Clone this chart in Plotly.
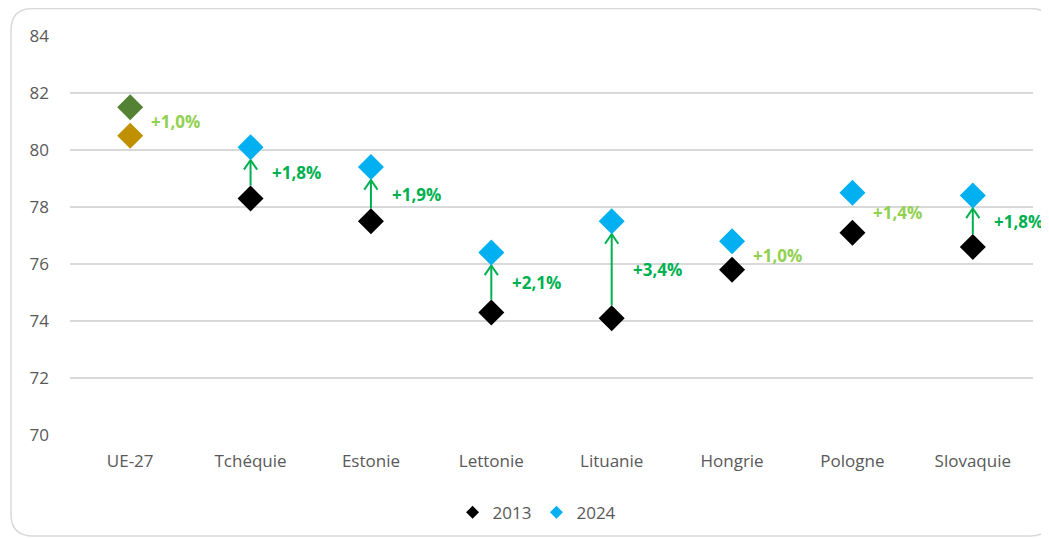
import plotly.graph_objects as go

categories = ["UE-27", "Tchéquie", "Estonie", "Lettonie", "Lituanie", "Hongrie", "Pologne", "Slovaquie"]
values_2013 = [80.5, 78.3, 77.5, 74.3, 74.1, 75.8, 77.1, 76.6]
values_2024 = [81.5, 80.1, 79.4, 76.4, 77.5, 76.8, 78.5, 78.4]
growth_labels = ["+1,0%", "+1,8%", "+1,9%", "+2,1%", "+3,4%", "+1,0%", "+1,4%", "+1,8%"]
significant = [False, True, True, True, True, False, False, True]
y_ticks = [70, 72, 74, 76, 78, 80, 82, 84]

BLACK = "#000000"
BLUE = "#00B0F0"
EU_2013 = "#BF9000"
EU_2024 = "#548235"
DARK_GREEN = "#00B050"
LIGHT_GREEN = "#92D050"
FONT = "Open Sans"

# page has an 8px body margin: figure size/margins compensate
OFF = 8
W, H = 1049 - OFF, 539 - OFF
L, T, R, B = 70 - OFF, 36 - OFF, 1033 - OFF, 435 - OFF

xs = list(range(len(categories)))
c2013 = [EU_2013 if i == 0 else BLACK for i in xs]
c2024 = [EU_2024 if i == 0 else BLUE for i in xs]

fig = go.Figure()

ax, ay = [], []
gap = 0.45
for i in xs:
    if not significant[i]:
        continue
    y0 = values_2013[i] + gap
    y1 = values_2024[i] - gap
    ax += [i, i, None, i - 0.055, i, i + 0.055, None]
    ay += [y0, y1, None, y1 - 0.34, y1, y1 - 0.34, None]
fig.add_trace(go.Scatter(x=ax, y=ay, mode="lines", line=dict(color=DARK_GREEN, width=2),
                         showlegend=False, hoverinfo="skip"))

fig.add_trace(go.Scatter(x=xs, y=values_2013, mode="markers", name="2013", showlegend=False,
                         marker=dict(symbol="diamond", size=20, color=c2013)))
fig.add_trace(go.Scatter(x=xs, y=values_2024, mode="markers", name="2024", showlegend=False,
                         marker=dict(symbol="diamond", size=20, color=c2024)))

fig.add_trace(go.Scatter(x=[None], y=[None], mode="markers", name="2013",
                         marker=dict(symbol="diamond", size=10, color=BLACK)))
fig.add_trace(go.Scatter(x=[None], y=[None], mode="markers", name="2024",
                         marker=dict(symbol="diamond", size=10, color=BLUE)))

for i in xs:
    fig.add_annotation(x=i, y=(values_2013[i] + values_2024[i]) / 2, text="<b>" + growth_labels[i] + "</b>",
                       showarrow=False, xanchor="left", yanchor="middle", xshift=19,
                       font=dict(family=FONT, size=17, color=DARK_GREEN if significant[i] else LIGHT_GREEN))

def px(x):
    return (x - OFF - L) / (R - L)
def py(y):
    return (B - (y - OFF)) / (B - T)
x0, x1, y0, y1, r = 11, 1052, 8.5, 536, 22
path = (f"M {px(x0)},{py(y0 + r)} Q {px(x0)},{py(y0)} {px(x0 + r)},{py(y0)} "
        f"L {px(x1 - r)},{py(y0)} Q {px(x1)},{py(y0)} {px(x1)},{py(y0 + r)} "
        f"L {px(x1)},{py(y1 - r)} Q {px(x1)},{py(y1)} {px(x1 - r)},{py(y1)} "
        f"L {px(x0 + r)},{py(y1)} Q {px(x0)},{py(y1)} {px(x0)},{py(y1 - r)} Z")
fig.add_shape(type="path", path=path, xref="paper", yref="paper",
              line=dict(color="#D9D9D9", width=1.5), layer="below")

fig.update_layout(
    width=W, height=H,
    margin=dict(l=L, r=W - R, t=T, b=H - B, autoexpand=False),
    paper_bgcolor="white", plot_bgcolor="white",
    font=dict(family=FONT, size=17, color="#595959"),
    legend=dict(orientation="h", x=0.485, xanchor="center", y=-0.195, yanchor="middle",
                font=dict(size=17, color="#595959"), itemsizing="trace", traceorder="normal",
                itemwidth=30),
    showlegend=True,
)
fig.update_xaxes(range=[-0.5, len(categories) - 0.5], tickvals=xs, ticktext=categories,
                 showgrid=False, zeroline=False, showline=False, ticks="", ticklabelstandoff=14,
                 fixedrange=True)
fig.update_yaxes(range=[70, 84], tickvals=y_ticks, showgrid=True, gridcolor="#D9D9D9", gridwidth=1.5,
                 zeroline=False, showline=False, ticks="", ticklabelstandoff=20, fixedrange=True)

fig.write_html("out.html")
